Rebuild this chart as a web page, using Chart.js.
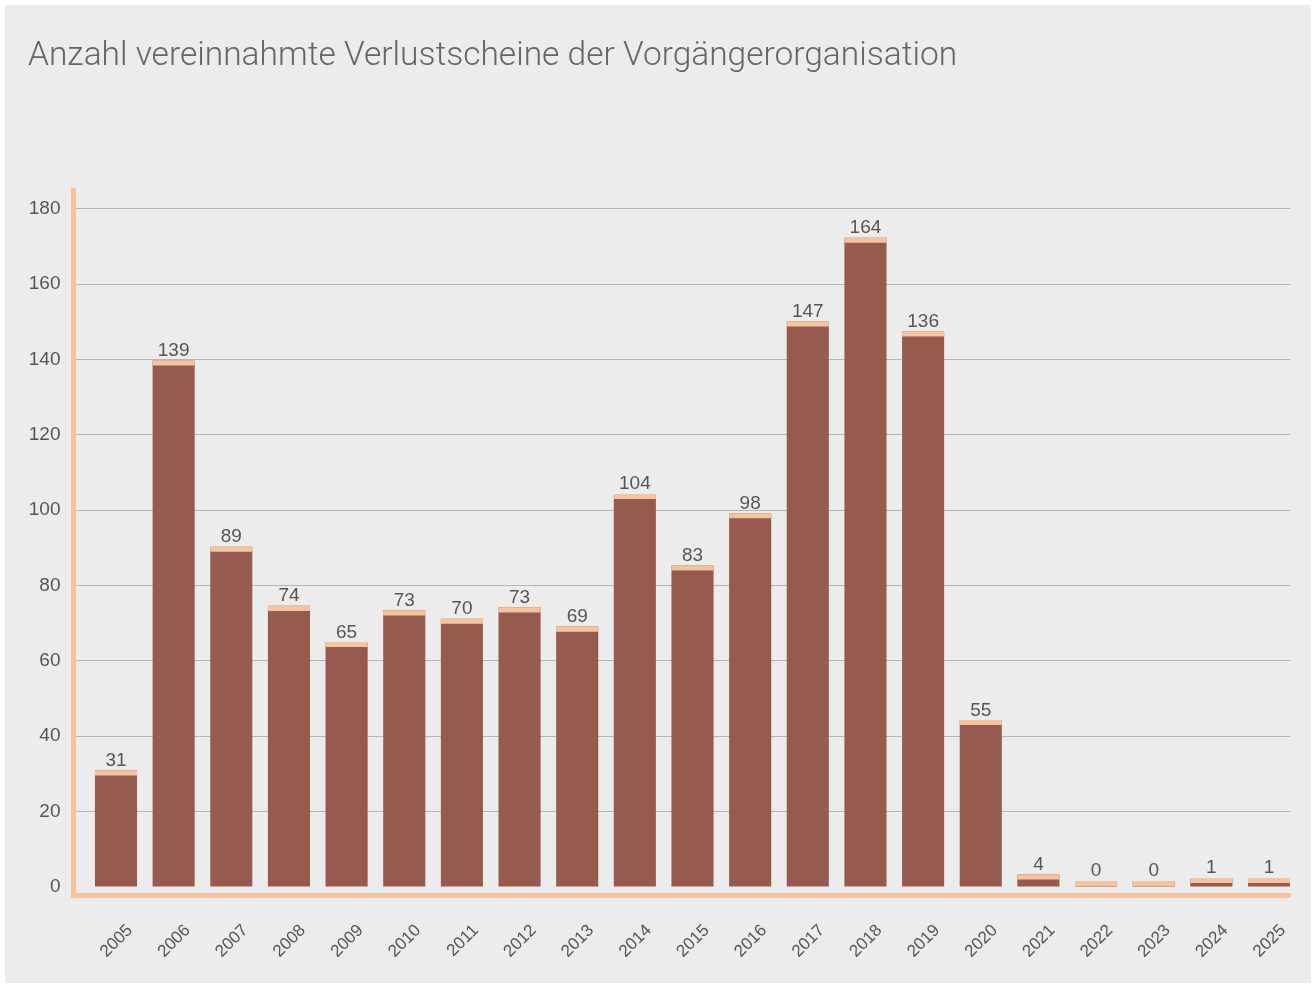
<!DOCTYPE html>
<html lang="de">
<head>
<meta charset="utf-8">
<title>Anzahl vereinnahmte Verlustscheine der Vorgängerorganisation</title>
<script src="https://cdn.jsdelivr.net/npm/chart.js@4.4.1/dist/chart.umd.min.js"></script>
<style>
  html, body { margin: 0; padding: 0; background: #fff; }
  #wrap { position: absolute; left: 5px; top: 5px; width: 1306px; height: 978px; background: #ececec; }
</style>
</head>
<body>
<div id="wrap"><canvas id="chart"></canvas></div>
<script>
// Jahre (x-Achse)
const jahre = [2005, 2006, 2007, 2008, 2009, 2010, 2011, 2012, 2013, 2014, 2015,
               2016, 2017, 2018, 2019, 2020, 2021, 2022, 2023, 2024, 2025];
// Balkenhöhen, wie sie im Bild gezeichnet sind
const werte = [30.9, 139.7, 90.3, 74.6, 65.0, 73.4, 71.2, 74.2, 69.1, 104.3, 85.3,
               99.2, 150.1, 172.3, 147.4, 44.3, 3.3, 1.6, 1.6, 2.4, 2.4];
// Beschriftung über den Balken
const beschriftung = ['31', '139', '89', '74', '65', '73', '70', '73', '69', '104', '83',
                      '98', '147', '164', '136', '55', '4', '0', '0', '1', '1'];
// Ticks der y-Achse
const yTicks = [0, 20, 40, 60, 80, 100, 120, 140, 160, 180];

const kappe = 1.35;          // Höhe der hellen Kappe oben auf dem Balken
const braun = '#965a4f';
const pfirsich = '#f5c49c';

Chart.defaults.font.family = '"Liberation Sans", Arial, sans-serif';

// Werte über den Balken schreiben
const wertLabels = {
  id: 'wertLabels',
  afterDatasetsDraw(chart) {
    const ctx = chart.ctx;
    const meta = chart.getDatasetMeta(1);
    ctx.save();
    ctx.font = '19px "Liberation Sans", Arial, sans-serif';
    ctx.fillStyle = '#555';
    ctx.textAlign = 'center';
    ctx.textBaseline = 'alphabetic';
    meta.data.forEach((bar, i) => {
      ctx.fillText(beschriftung[i], bar.x, bar.y - 4.5);
    });
    ctx.restore();
  }
};

const ctx = document.getElementById('chart').getContext('2d');
new Chart(ctx, {
  type: 'bar',
  data: {
    datasets: [
      {
        data: jahre.map((j, i) => ({ x: j, y: werte[i] })),
        backgroundColor: braun,
        grouped: false,
        order: 2,
        barPercentage: 0.73,
        categoryPercentage: 1
      },
      {
        data: jahre.map((j, i) => ({ x: j, y: [werte[i] - kappe, werte[i]] })),
        backgroundColor: pfirsich,
        grouped: false,
        order: 1,
        barPercentage: 0.73,
        categoryPercentage: 1
      }
    ]
  },
  options: {
    responsive: true,
    maintainAspectRatio: false,
    animation: false,
    layout: { padding: { left: 23, right: 21, top: 0, bottom: 0 } },
    plugins: {
      legend: { display: false },
      tooltip: { enabled: false },
      title: {
        display: true,
        text: 'Anzahl vereinnahmte Verlustscheine der Vorgängerorganisation',
        align: 'start',
        color: '#666',
        font: { family: 'Roboto, "Liberation Sans", sans-serif', weight: '300', size: 33.5 },
        padding: { top: 32, bottom: 113 }
      }
    },
    scales: {
      x: {
        type: 'linear',
        offset: false,
        min: 2004.263,
        max: 2025.364,
        grid: { display: false },
        border: { display: true, color: pfirsich, width: 5 },
        afterBuildTicks: s => { s.ticks = jahre.map(v => ({ value: v })); },
        afterFit: s => { s.height = 87.5; },
        ticks: {
          autoSkip: false,
          minRotation: 45,
          maxRotation: 45,
          color: '#555',
          font: { size: 17 },
          padding: 17,
          labelOffset: 14,
          callback: v => String(v)
        }
      },
      y: {
        min: -2.27,
        max: 184.9,
        afterBuildTicks: s => { s.ticks = yTicks.map(v => ({ value: v })); },
        afterFit: s => { s.width = 45.5; },
        grid: {
          color: c => (c.tick && c.tick.value === 0) ? 'rgba(0,0,0,0)' : '#b5b5b5',
          lineWidth: 1,
          drawTicks: false
        },
        border: { display: true, color: pfirsich, width: 5 },
        ticks: { color: '#555', font: { size: 19 }, padding: 13 }
      }
    }
  },
  plugins: [wertLabels]
});
</script>
</body>
</html>
